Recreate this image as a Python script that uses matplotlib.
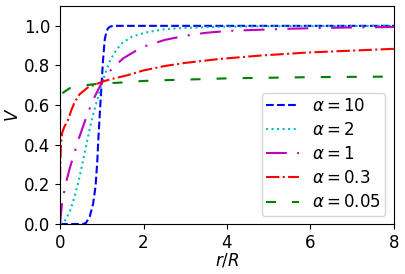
import matplotlib
matplotlib.use("Agg")
import matplotlib.pyplot as plt

# curve readings (r/R, V)
r_a10 = [0, 0.55, 0.62, 0.71, 0.79, 0.85, 0.89, 0.92, 0.95, 0.99, 1.03, 1.07, 1.11, 1.15, 1.2, 1.27, 1.4, 8]
v_a10 = [0, 0, 0.005, 0.037, 0.10, 0.19, 0.31, 0.44, 0.55, 0.69, 0.83, 0.93, 0.97, 0.988, 0.996, 1.0, 1.0, 1.0]

r_a2 = [0, 0.1, 0.23, 0.35, 0.47, 0.59, 0.71, 0.8, 0.91, 1.0, 1.1, 1.2, 1.35, 1.5, 1.72, 2.04, 2.5, 3, 4, 5, 8]
v_a2 = [0, 0.01, 0.06, 0.14, 0.24, 0.36, 0.48, 0.56, 0.64, 0.71, 0.77, 0.825, 0.88, 0.915, 0.945, 0.966, 0.983, 0.99, 0.996, 0.998, 1.0]

r_a1 = [0, 0.02, 0.05, 0.13, 0.23, 0.33, 0.43, 0.53, 0.63, 0.8, 0.99, 1.16, 1.35, 1.52, 1.72, 2.0, 2.51, 3.0, 3.5, 4.07, 4.47, 5.43, 6.7, 8]
v_a1 = [0, 0.05, 0.11, 0.2, 0.28, 0.35, 0.42, 0.48, 0.54, 0.63, 0.71, 0.765, 0.805, 0.837, 0.862, 0.895, 0.929, 0.95, 0.965, 0.975, 0.978, 0.985, 0.991, 0.994]

r_a03 = [0, 0.005, 0.02, 0.05, 0.1, 0.19, 0.27, 0.35, 0.47, 0.67, 0.85, 1.0, 1.2, 1.6, 2.0, 2.5, 3.0, 3.83, 4.8, 5.9, 7, 8]
v_a03 = [0.22, 0.3, 0.4, 0.46, 0.49, 0.525, 0.575, 0.615, 0.655, 0.69, 0.705, 0.717, 0.73, 0.75, 0.775, 0.797, 0.813, 0.833, 0.85, 0.865, 0.875, 0.884]

r_a005 = [0, 0.005, 0.05, 0.23, 0.6, 1.0, 1.4, 2.0, 2.7, 3.4, 4.0, 5.0, 6.0, 8.0]
v_a005 = [0.53, 0.6, 0.66, 0.685, 0.70, 0.71, 0.713, 0.722, 0.727, 0.731, 0.735, 0.738, 0.741, 0.744]

labels = [r'$\alpha = 10$', r'$\alpha = 2$', r'$\alpha = 1$', r'$\alpha = 0.3$', r'$\alpha = 0.05$']
x_ticks = [0, 2, 4, 6, 8]
y_ticks = [0.0, 0.2, 0.4, 0.6, 0.8, 1.0]

plt.rcParams['font.size'] = 12

fig = plt.figure(figsize=(4.06, 2.74), dpi=100)
ax = fig.add_axes([0.148, 0.1825, 0.822, 0.7955])

lw = 1.5
ax.plot(r_a10, v_a10, color='b', linestyle='--', lw=lw, label=labels[0])
ax.plot(r_a2, v_a2, color='c', linestyle=':', lw=lw, label=labels[1])
ax.plot(r_a1, v_a1, color='m', dashes=(10, 5, 1, 5), lw=lw, label=labels[2])
ax.plot(r_a03, v_a03, color='r', linestyle='-.', lw=lw, label=labels[3])
ax.plot(r_a005, v_a005, color='g', dashes=(4.8, 7.7), lw=lw, label=labels[4])

ax.set_xlim(0, 8)
ax.set_ylim(0, 1.1)
ax.set_xticks(x_ticks)
ax.set_yticks(y_ticks)
ax.set_xlabel(r'$r/R$', labelpad=0)
ax.set_ylabel(r'$V$', labelpad=1.5)
ax.legend(loc='lower right', labelspacing=0.37, borderpad=0.25)

fig.savefig('out.png', dpi=100)
